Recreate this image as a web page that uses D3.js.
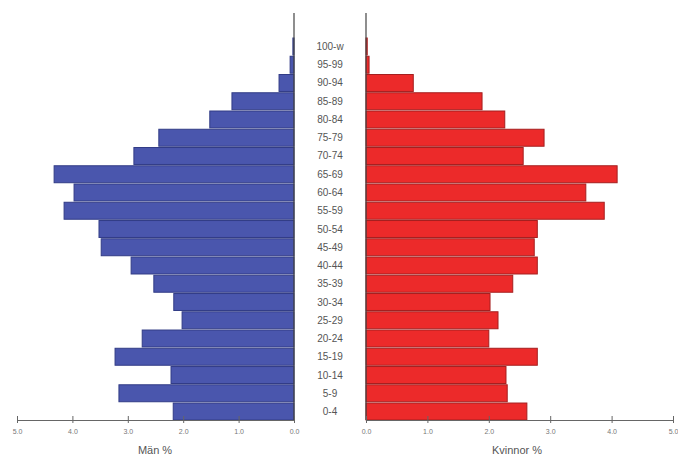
<!DOCTYPE html>
<html>
<head>
    <title>pyramid</title>
    <script src="https://d3js.org/d3.v7.min.js"></script>
    <style>
        body { margin: 0; background: #fff; }
        text { font-family: "Liberation Sans", Arial, sans-serif; }
    </style>
</head>
<body>
    <svg width="678" height="461" id="mainsvg"></svg>
    <script>
        const ages = ['0-4', '5-9', '10-14', '15-19', '20-24', '25-29', '30-34', '35-39', '40-44', '45-49',
            '50-54', '55-59', '60-64', '65-69', '70-74', '75-79', '80-84', '85-89', '90-94', '95-99', '100-w'];
        const men = [2.18, 3.16, 2.22, 3.23, 2.74, 2.02, 2.17, 2.53, 2.94, 3.48,
            3.52, 4.15, 3.97, 4.33, 2.89, 2.44, 1.52, 1.12, 0.27, 0.07, 0.02];
        const women = [2.62, 2.30, 2.28, 2.79, 2.00, 2.15, 2.02, 2.39, 2.79, 2.74,
            2.79, 3.88, 3.58, 4.09, 2.56, 2.90, 2.26, 1.89, 0.77, 0.05, 0.02];
        const ticks = [0, 1, 2, 3, 4, 5];

        const svg = d3.select('#mainsvg');
        const axisY = 420;

        const xL = d3.scaleLinear().domain([0, 5]).range([294, 17]);
        const xR = d3.scaleLinear().domain([0, 5]).range([366, 673]);
        const y = d3.scaleBand().domain(ages.slice().reverse()).range([38, axisY]).paddingInner(0.07);

        // bars
        svg.append('g').selectAll('rect').data(ages)
            .enter().append('rect')
            .attr('x', (d, i) => xL(men[i]))
            .attr('y', d => y(d))
            .attr('width', (d, i) => xL(0) - xL(men[i]))
            .attr('height', y.bandwidth())
            .attr('fill', '#4a56ad')
            .attr('stroke', '#323c86')
            .attr('stroke-width', 1);

        svg.append('g').selectAll('rect').data(ages)
            .enter().append('rect')
            .attr('x', xR(0))
            .attr('y', d => y(d))
            .attr('width', (d, i) => xR(women[i]) - xR(0))
            .attr('height', y.bandwidth())
            .attr('fill', '#ec2a2a')
            .attr('stroke', '#a51f1f')
            .attr('stroke-width', 1);

        // vertical base lines
        [xL(0), xR(0)].forEach(x => {
            svg.append('line')
                .attr('x1', x).attr('x2', x)
                .attr('y1', 13).attr('y2', axisY)
                .attr('stroke', '#444').attr('stroke-width', 1.2);
        });

        // category labels
        svg.append('g').selectAll('text').data(ages)
            .enter().append('text')
            .attr('x', 330)
            .attr('y', d => y(d) + y.bandwidth() / 2)
            .attr('dy', '0.35em')
            .attr('text-anchor', 'middle')
            .attr('font-size', 10)
            .attr('fill', '#555')
            .text(d => d);

        // axes
        const fmt = d3.format('.1f');
        function drawAxis(scale) {
            const g = svg.append('g')
                .attr('transform', `translate(0,${axisY})`)
                .call(d3.axisBottom(scale).tickValues(ticks).tickFormat(fmt).tickSizeOuter(0).tickSize(3));
            g.select('.domain').attr('stroke', '#666');
            g.selectAll('.tick line').attr('y1', -4).attr('y2', 3).attr('stroke', '#666');
            g.selectAll('.tick text').attr('y', 9).attr('font-size', 7).attr('fill', '#777')
                .attr('font-family', '"Liberation Sans", Arial, sans-serif');
        }
        drawAxis(xL);
        drawAxis(xR);

        svg.append('text').attr('x', 155).attr('y', 454).attr('text-anchor', 'middle')
            .attr('font-size', 11).attr('fill', '#555').text('Män %');
        svg.append('text').attr('x', 517).attr('y', 454).attr('text-anchor', 'middle')
            .attr('font-size', 11).attr('fill', '#555').text('Kvinnor %');
    </script>
</body>
</html>
